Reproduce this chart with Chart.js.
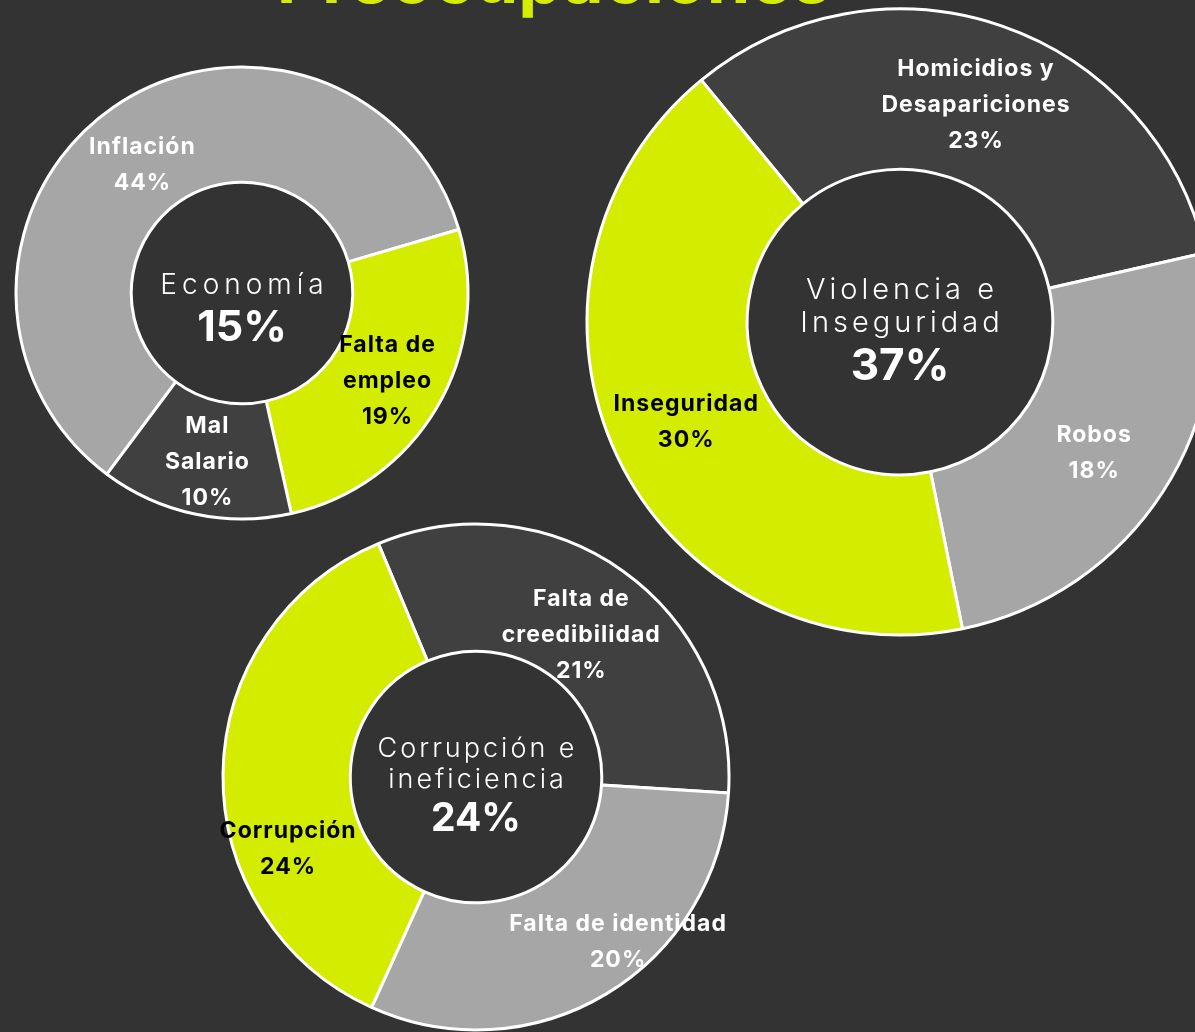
<!DOCTYPE html>
<html lang="es">
<head>
<meta charset="utf-8">
<title>Preocupaciones</title>
<script src="https://cdn.jsdelivr.net/npm/chart.js@4/dist/chart.umd.min.js"></script>
<style>
  html, body { margin: 0; padding: 0; }
  body {
    width: 1195px; height: 1032px; overflow: hidden;
    background: #333333; position: relative;
    font-family: Inter, "Noto Sans", sans-serif;
  }
  .title {
    position: absolute; left: 0; width: 1108px; top: -58px;
    text-align: center; font-size: 70px; line-height: 72px;
    font-weight: 700; color: #d4ec00;
  }
  canvas { position: absolute; }
</style>
</head>
<body>
<div class="title">Preocupaciones</div>
<canvas id="economia"></canvas>
<canvas id="violencia"></canvas>
<canvas id="corrupcion"></canvas>
<script>
// Economía
const ecoLabels = [['Inflación'], ['Falta de', 'empleo'], ['Mal', 'Salario']];
const ecoValues = [44, 19, 10];
const ecoTitle = ['Economía'];
const ecoShare = 15;

// Violencia e Inseguridad
const vioLabels = [['Homicidios y', 'Desapariciones'], ['Robos'], ['Inseguridad']];
const vioValues = [23, 18, 30];
const vioTitle = ['Violencia e', 'Inseguridad'];
const vioShare = 37;

// Corrupción e ineficiencia
const corLabels = [['Falta de', 'creedibilidad'], ['Falta de identidad'], ['Corrupción']];
const corValues = [21, 20, 24];
const corTitle = ['Corrupción e', 'ineficiencia'];
const corShare = 24;

const LIME = '#d4ec00';
const DARK = '#404040';
const GRAY = '#a6a6a6';
const FONT = 'Inter, "Noto Sans", sans-serif';

// Draws each slice's name and percentage, plus the category text in the hole
const sliceText = {
  id: 'sliceText',
  afterDatasetsDraw(chart) {
    const o = chart.options.plugins.sliceText;
    const ctx = chart.ctx;
    const meta = chart.getDatasetMeta(0);
    const values = chart.data.datasets[0].data;
    ctx.save();
    ctx.textAlign = 'center';
    ctx.textBaseline = 'middle';

    // slice labels, anchored on each arc's centre point
    ctx.font = '700 ' + o.fontSize + 'px ' + FONT;
    ctx.letterSpacing = o.labelSpacing + 'px';
    meta.data.forEach((arc, i) => {
      const p = arc.getCenterPoint();
      const off = o.offsets[i];
      const lines = o.names[i].concat([values[i] + '%']);
      const lh = o.lineHeight;
      const y0 = p.y + off[1] - (lines.length - 1) * lh / 2;
      ctx.fillStyle = o.textColors[i];
      lines.forEach((t, k) => ctx.fillText(t, p.x + off[0] + o.labelSpacing / 2, y0 + k * lh));
    });

    // category name and share inside the hole
    const c = meta.data[0];
    const cx = c.x, cy = c.y;
    ctx.fillStyle = '#ffffff';
    ctx.font = '300 ' + o.titleSize + 'px ' + FONT;
    ctx.letterSpacing = o.titleSpacing + 'px';
    const top = cy + o.titleOffset;
    o.title.forEach((t, k) => ctx.fillText(t, cx + o.titleSpacing / 2, top + k * o.titleLineHeight));
    ctx.letterSpacing = '0px';
    ctx.font = '700 ' + o.shareSize + 'px ' + FONT;
    ctx.fillText(o.share + '%', cx, top + (o.title.length - 1) * o.titleLineHeight + o.shareGap);
    ctx.restore();
  }
};

function donut(id, cx, cy, R, rIn, labels, values, colors, rotation, textOpts) {
  const cv = document.getElementById(id);
  const S = Math.ceil(2 * (R + 6));
  cv.width = S; cv.height = S;
  cv.style.width = S + 'px'; cv.style.height = S + 'px';
  cv.style.left = (cx - S / 2) + 'px';
  cv.style.top = (cy - S / 2) + 'px';
  return new Chart(cv, {
    type: 'doughnut',
    data: {
      labels: labels.map(l => l.join(' ')),
      datasets: [{
        data: values,
        backgroundColor: colors,
        borderColor: '#ffffff',
        borderWidth: 3
      }]
    },
    options: {
      responsive: false,
      animation: false,
      events: [],
      radius: R,
      cutout: rIn,
      rotation: rotation,
      layout: { padding: 0 },
      plugins: {
        legend: { display: false },
        tooltip: { enabled: false },
        sliceText: textOpts
      }
    },
    plugins: [sliceText]
  });
}

donut('economia', 242, 293, 226, 113, ecoLabels, ecoValues, [GRAY, LIME, DARK], 216.7, {
  names: ecoLabels,
  offsets: [[-4, 10], [0, 3], [0, 4]],
  textColors: ['#ffffff', '#000000', '#ffffff'],
  fontSize: 23, labelSpacing: 1, lineHeight: 36,
  title: ecoTitle, share: ecoShare,
  titleSize: 28, titleSpacing: 5, titleLineHeight: 33, titleOffset: -7,
  shareSize: 43, shareGap: 42
});

donut('violencia', 900, 322, 313, 155, vioLabels, vioValues, [DARK, GRAY, LIME], 320.6, {
  names: vioLabels,
  offsets: [[0, 3], [-2, 5], [-4, 0]],
  textColors: ['#ffffff', '#ffffff', '#000000'],
  fontSize: 23, labelSpacing: 1, lineHeight: 36,
  title: vioTitle, share: vioShare,
  titleSize: 29, titleSpacing: 4, titleLineHeight: 33, titleOffset: -32,
  shareSize: 44, shareGap: 44
});

donut('corrupcion', 476, 777, 253, 128, corLabels, corValues, [DARK, GRAY, LIME], 337.3, {
  names: corLabels,
  offsets: [[-5, 12], [44, 3], [1, 75]],
  textColors: ['#ffffff', '#ffffff', '#000000'],
  fontSize: 23, labelSpacing: 1, lineHeight: 36,
  title: corTitle, share: corShare,
  titleSize: 27, titleSpacing: 3, titleLineHeight: 31, titleOffset: -28,
  shareSize: 39, shareGap: 39
});
</script>
</body>
</html>
